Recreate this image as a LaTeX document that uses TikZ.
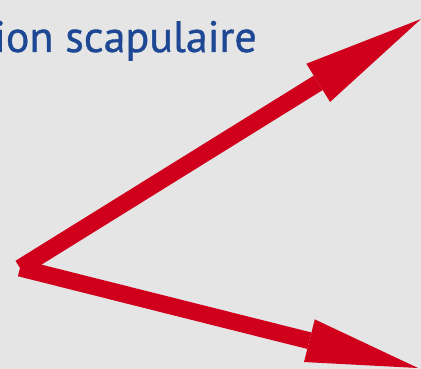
\documentclass[tikz,border=0pt]{standalone}
\usepackage{fontspec}
\setmainfont{PT Sans}
\newfontfamily\titlefont[FakeBold=0.8]{PT Sans}
\usetikzlibrary{arrows.meta}
\definecolor{bggray}{RGB}{229,229,229}
\definecolor{arrowred}{RGB}{208,0,28}
\definecolor{titleblue}{RGB}{30,72,148}
\tikzset{
  redarrow/.style={draw=arrowred, line width=17pt, line cap=butt},
  titletext/.style={text=titleblue, inner sep=0pt, anchor=base east, font=\titlefont\fontsize{44}{52}\selectfont}
}
\begin{document}
\begin{tikzpicture}[x=1pt,y=-1pt]
  \fill[bggray] (0,0) rectangle (421,369);
  \useasboundingbox (0,0) rectangle (421,369);
  \begin{scope}
    \clip (0,0) rectangle (421,369);
    \node[titletext] (title) at (257,52) {ion scapulaire};
    \coordinate (V) at (20,268);
    \coordinate (T1) at (421,19);
    \coordinate (T2) at (418,368);
    \draw[redarrow, -{Triangle[length=121pt,width=45pt,line width=0pt]}] (V) -- (T1);
    \draw[redarrow, -{Triangle[length=112pt,width=44pt,line width=0pt]}] (V) -- (T2);
  \end{scope}
\end{tikzpicture}
\end{document}
